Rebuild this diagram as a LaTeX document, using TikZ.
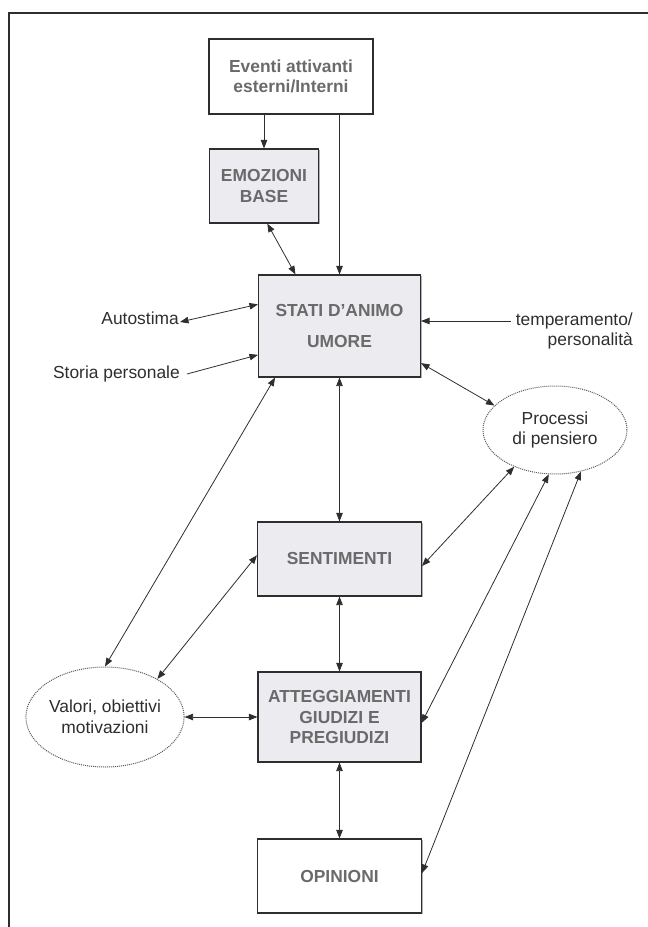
\documentclass[tikz,border=0pt]{standalone}
\usepackage{fontspec}
\setmainfont{Liberation Sans}
\usetikzlibrary{arrows.meta, shapes.geometric, calc, shadows}

\definecolor{boxgray}{HTML}{EBEBF0}
\definecolor{textgray}{HTML}{6A6A6A}
\definecolor{linegray}{HTML}{2E2E2E}

\begin{document}
\begin{tikzpicture}[x=1pt, y=-1pt, font=\fontsize{17.4}{20.5}\selectfont,
    plainbox/.style={draw=linegray, line width=1.1pt, fill=white, text=textgray,
        font=\fontsize{17.4}{20.5}\selectfont\bfseries, align=center, inner sep=0pt,
        drop shadow={shadow xshift=1.2pt, shadow yshift=-1.2pt, fill=black, opacity=0.3}},
    graybox/.style={plainbox, fill=boxgray},
    cloud/.style={ellipse, draw=black!65, densely dotted, line width=1pt, fill=white,
        text=linegray, align=center, inner sep=0pt},
    sidelabel/.style={text=linegray, inner sep=0pt},
    onearr/.style={-{Triangle[length=8.5pt, width=6.5pt]}, draw=linegray, line width=0.8pt},
    twoarr/.style={{Triangle[length=8.5pt, width=6.5pt]}-{Triangle[length=8.5pt, width=6.5pt]},
        draw=linegray, line width=0.8pt}]
    \useasboundingbox (0, 0) rectangle (648, 927);

    % frame
    \draw[linegray, line width=1.5pt] (648, 13) -- (9, 13) -- (9, 927);

    % boxes
    \node[plainbox, minimum width=164pt, minimum height=75pt] (eventi) at (291, 76.5) {Eventi attivanti\\esterni/Interni};
    \node[graybox, minimum width=109pt, minimum height=74pt] (emozioni) at (264, 186) {EMOZIONI\\BASE};
    \node[graybox, minimum width=162pt, minimum height=102pt] (stati) at (339.5, 326) {STATI D’ANIMO\\[11pt]UMORE};
    \node[graybox, minimum width=164pt, minimum height=74pt] (sentimenti) at (339.5, 559) {SENTIMENTI};
    \node[graybox, minimum width=163pt, minimum height=90pt] (atteggiamenti) at (339.5, 717) {ATTEGGIAMENTI\\GIUDIZI E\\PREGIUDIZI};
    \node[plainbox, minimum width=164pt, minimum height=74pt] (opinioni) at (339.5, 876) {OPINIONI};

    % ellipses
    \node[cloud, minimum width=144pt, minimum height=88pt] (processi) at (555, 430) {Processi\\di pensiero};
    \node[cloud, minimum width=154pt, minimum height=100pt] (valori) at (105, 717) {Valori, obiettivi\\motivazioni};

    % side labels
    \node[sidelabel, anchor=east] (autostima) at (179, 318) {Autostima};
    \node[sidelabel, anchor=east] (storia) at (180, 374) {Storia personale};
    \node[sidelabel, anchor=east, align=right] (temperamento) at (633, 331) {temperamento/\\personalità};

    % connectors from the top
    \draw[onearr] (eventi.south -| emozioni.north) -- (emozioni.north);
    \draw[onearr] (eventi.south -| stati.north) -- (stati.north);
    \draw[twoarr] ($(emozioni.south west)!0.53!(emozioni.south east)$) -- ($(stati.north west)!0.23!(stati.north east)$);

    % connectors at the sides of STATI
    \draw[twoarr] ([xshift=1pt, yshift=-4pt]autostima.east) -- ($(stati.north west)!0.29!(stati.south west)$);
    \draw[onearr] ([xshift=7pt]storia.east) -- ($(stati.north west)!0.78!(stati.south west)$);
    \draw[onearr] ([xshift=-5pt, yshift=10pt]temperamento.west) -- ([yshift=10pt]temperamento.west -| stati.east);
    \draw[twoarr] ($(stati.north east)!0.86!(stati.south east)$) -- (processi.158);

    % central column
    \draw[twoarr] (stati.south) -- (sentimenti.north);
    \draw[twoarr] (sentimenti.south) -- (atteggiamenti.north);
    \draw[twoarr] (atteggiamenti.south) -- (opinioni.north);

    % connectors to the ellipses
    \draw[twoarr] ($(stati.south west)!0.105!(stati.south east)$) -- (valori.north);
    \draw[twoarr] ($(sentimenti.north west)!0.45!(sentimenti.south west)$) -- (valori.36);
    \draw[twoarr] (valori) -- (atteggiamenti);
    \draw[twoarr] (processi.222) -- ([yshift=-7pt]sentimenti.east);
    \draw[twoarr] (processi.262) -- ([yshift=-6pt]atteggiamenti.east);
    \draw[twoarr] (processi.302) -- ([yshift=3pt]opinioni.east);
\end{tikzpicture}
\end{document}
